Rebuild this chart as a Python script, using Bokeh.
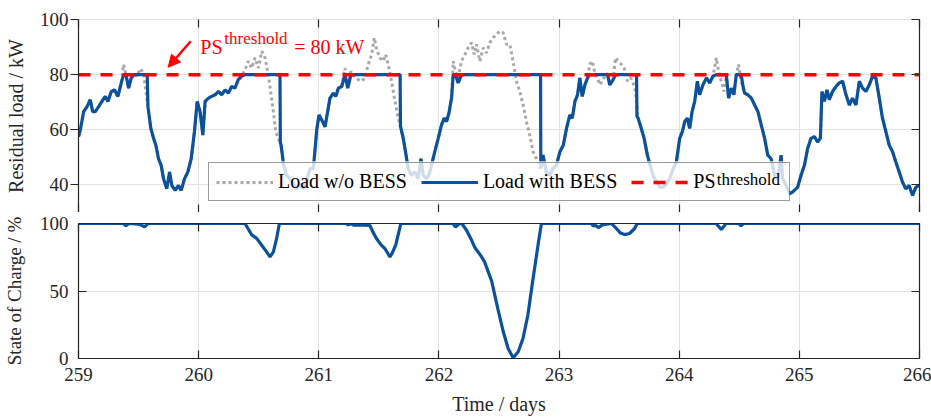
from bokeh.plotting import figure
from bokeh.layouts import column
from bokeh.models import (FixedTicker, LinearAxis, Range1d, Legend, LegendItem,
                          Label, Arrow, NormalHead, BoxAnnotation)
from bokeh.embed import file_html
from bokeh.resources import INLINE

FONT = "Liberation Serif"
TXT = "#262626"
BLUE = "#0b519b"
GREY = "#a9a9a9"
RED = "#ff0000"
GRID = "#e3e3e3"

# ---------------- data ----------------
PS_THRESHOLD = 80
x_ticks = [259, 260, 261, 262, 263, 264, 265, 266]
load_ticks = [40, 60, 80, 100]
soc_ticks = [0, 50, 100]
load_limits = [30, 100]
soc_limits = [0, 100]

t_wo = [
    259.000, 259.015, 259.043, 259.071, 259.098, 259.118, 259.140, 259.168, 259.195, 259.223,
    259.245, 259.273, 259.300, 259.328, 259.356, 259.375, 259.395, 259.417, 259.439, 259.461,
    259.486, 259.514, 259.541, 259.561, 259.578, 259.602, 259.625, 259.644, 259.666, 259.688,
    259.708, 259.735, 259.758, 259.777, 259.805, 259.833, 259.855, 259.882, 259.910, 259.938,
    259.965, 259.988, 260.012, 260.035, 260.054, 260.082, 260.109, 260.137, 260.165, 260.192,
    260.220, 260.248, 260.274, 260.302, 260.330, 260.357, 260.386, 260.414, 260.441, 260.469,
    260.497, 260.525, 260.553, 260.580, 260.603, 260.622, 260.642, 260.663, 260.686, 260.708,
    260.733, 260.760, 260.788, 260.816, 260.843, 260.871, 260.899, 260.927, 260.955, 260.983,
    261.002, 261.024, 261.052, 261.074, 261.093, 261.121, 261.141, 261.163, 261.191, 261.218,
    261.241, 261.268, 261.296, 261.329, 261.357, 261.384, 261.412, 261.440, 261.462, 261.481,
    261.509, 261.537, 261.556, 261.578, 261.606, 261.634, 261.656, 261.675, 261.703, 261.722,
    261.744, 261.772, 261.800, 261.827, 261.850, 261.869, 261.897, 261.925, 261.944, 261.972,
    261.994, 262.021, 262.044, 262.063, 262.083, 262.105, 262.119, 262.138, 262.160, 262.188,
    262.216, 262.243, 262.271, 262.293, 262.313, 262.340, 262.368, 262.396, 262.424, 262.451,
    262.479, 262.507, 262.535, 262.562, 262.590, 262.617, 262.645, 262.673, 262.701, 262.728,
    262.756, 262.784, 262.811, 262.839, 262.866, 262.894, 262.922, 262.949, 262.977, 263.007,
    263.035, 263.062, 263.090, 263.110, 263.132, 263.154, 263.173, 263.193, 263.215, 263.237,
    263.256, 263.276, 263.298, 263.320, 263.339, 263.359, 263.381, 263.403, 263.422, 263.450,
    263.470, 263.492, 263.519, 263.542, 263.569, 263.597, 263.616, 263.636, 263.658, 263.680,
    263.708, 263.735, 263.758, 263.782, 263.810, 263.838, 263.866, 263.893, 263.921, 263.949,
    263.976, 264.004, 264.026, 264.046, 264.068, 264.087, 264.107, 264.129, 264.151, 264.170,
    264.198, 264.226, 264.253, 264.281, 264.309, 264.328, 264.350, 264.372, 264.392, 264.411,
    264.433, 264.455, 264.475, 264.494, 264.516, 264.544, 264.572, 264.600, 264.628, 264.655,
    264.683, 264.711, 264.737, 264.765, 264.788, 264.806, 264.825, 264.848, 264.861, 264.890,
    264.918, 264.945, 264.986, 265.014, 265.042, 265.069, 265.097, 265.125, 265.152, 265.175,
    265.188, 265.208, 265.230, 265.249, 265.277, 265.305, 265.332, 265.360, 265.388, 265.416,
    265.443, 265.471, 265.499, 265.526, 265.554, 265.582, 265.609, 265.637, 265.665, 265.692,
    265.720, 265.748, 265.776, 265.803, 265.831, 265.859, 265.886, 265.914, 265.942, 265.970,
    266.000]

load_wo_bess = [
    57.5, 59.9, 66.6, 68.4, 70.9, 66.6, 66.6, 68.4, 70.3, 72.1,
    70.3, 73.9, 74.5, 72.1, 77.0, 83.7, 80.0, 75.1, 78.8, 80.6,
    79.4, 82.2, 80.6, 73.9, 68.4, 60.5, 56.9, 54.4, 49.5, 47.1,
    42.2, 38.6, 44.7, 39.8, 38.0, 39.8, 38.0, 42.2, 44.7, 49.5,
    59.3, 70.3, 66.6, 58.1, 70.3, 71.5, 72.1, 72.7, 73.9, 72.7,
    74.5, 73.3, 75.7, 75.1, 78.2, 79.4, 81.8, 84.9, 82.4, 86.1,
    82.4, 88.5, 86.1, 80.0, 72.7, 66.6, 59.3, 56.9, 54.4, 47.1,
    43.5, 42.2, 40.4, 38.6, 40.4, 38.6, 41.6, 45.9, 45.9, 60.0,
    65.4, 63.6, 61.1, 66.6, 71.5, 73.3, 72.1, 75.1, 75.7, 82.4,
    75.1, 81.2, 79.4, 78.2, 77.6, 78.8, 83.7, 87.3, 93.4, 89.1,
    86.1, 84.9, 87.3, 83.7, 77.6, 70.3, 65.4, 61.7, 56.9, 52.0,
    45.9, 43.5, 44.7, 42.2, 49.5, 43.5, 42.2, 44.7, 48.3, 53.2,
    56.9, 61.7, 64.2, 63.0, 66.0, 71.5, 84.9, 81.2, 78.8, 84.9,
    87.3, 89.7, 91.6, 87.3, 91.0, 84.9, 89.7, 87.9, 91.6, 93.4,
    94.6, 95.8, 95.2, 91.0, 91.0, 84.9, 77.6, 73.9, 69.0, 63.0,
    58.1, 52.0, 49.5, 45.9, 50.8, 44.7, 43.5, 45.9, 47.1, 52.0,
    54.4, 60.5, 65.4, 64.2, 70.3, 72.7, 78.8, 72.1, 76.3, 78.8,
    83.7, 84.9, 80.6, 78.8, 76.3, 77.6, 79.4, 80.5, 76.3, 78.2,
    86.1, 84.9, 83.7, 82.4, 77.6, 78.8, 77.0, 73.9, 64.2, 61.1,
    56.9, 50.8, 47.1, 43.5, 41.0, 39.2, 39.2, 40.4, 42.2, 45.9,
    48.3, 56.9, 59.3, 63.0, 64.2, 60.5, 66.6, 70.3, 77.6, 72.7,
    76.3, 78.8, 77.0, 79.4, 86.1, 81.2, 77.6, 73.9, 80.0, 71.5,
    75.1, 72.7, 80.0, 83.7, 77.6, 73.3, 72.7, 71.5, 69.0, 66.6,
    61.7, 56.9, 50.8, 49.5, 44.7, 42.2, 43.0, 50.8, 42.2, 39.8,
    36.8, 37.5, 39.2, 43.5, 47.1, 53.2, 56.9, 57.5, 55.6, 56.9,
    73.9, 70.3, 74.5, 70.9, 73.9, 75.7, 77.0, 77.6, 72.7, 69.0,
    71.5, 69.0, 77.6, 75.1, 73.9, 76.3, 79.4, 78.8, 71.5, 64.2,
    59.3, 54.4, 52.0, 48.3, 44.7, 41.0, 38.6, 39.8, 36.2, 39.2,
    39.8]

t_with = [
    259.000, 259.015, 259.043, 259.071, 259.098, 259.118, 259.140, 259.168, 259.195, 259.223,
    259.245, 259.273, 259.300, 259.328, 259.356, 259.375, 259.395, 259.417, 259.439, 259.461,
    259.486, 259.514, 259.541, 259.561, 259.572, 259.578, 259.602, 259.625, 259.644, 259.666,
    259.688, 259.708, 259.735, 259.758, 259.777, 259.805, 259.833, 259.855, 259.882, 259.910,
    259.938, 259.965, 259.988, 260.012, 260.035, 260.054, 260.082, 260.109, 260.137, 260.165,
    260.192, 260.220, 260.248, 260.274, 260.302, 260.330, 260.357, 260.386, 260.414, 260.441,
    260.469, 260.497, 260.525, 260.553, 260.580, 260.603, 260.622, 260.642, 260.663, 260.677,
    260.680, 260.686, 260.708, 260.733, 260.760, 260.788, 260.816, 260.843, 260.871, 260.899,
    260.927, 260.955, 260.983, 261.002, 261.024, 261.052, 261.074, 261.093, 261.121, 261.141,
    261.163, 261.191, 261.218, 261.241, 261.268, 261.296, 261.329, 261.357, 261.384, 261.412,
    261.440, 261.462, 261.481, 261.509, 261.537, 261.556, 261.578, 261.606, 261.634, 261.656,
    261.677, 261.680, 261.703, 261.722, 261.744, 261.772, 261.800, 261.827, 261.850, 261.869,
    261.897, 261.925, 261.944, 261.972, 261.994, 262.021, 262.044, 262.063, 262.083, 262.105,
    262.119, 262.138, 262.160, 262.188, 262.216, 262.243, 262.271, 262.293, 262.313, 262.340,
    262.368, 262.396, 262.424, 262.451, 262.479, 262.507, 262.535, 262.562, 262.590, 262.617,
    262.645, 262.673, 262.701, 262.728, 262.756, 262.784, 262.811, 262.839, 262.846, 262.848,
    262.866, 262.894, 262.922, 262.949, 262.977, 263.007, 263.035, 263.062, 263.090, 263.110,
    263.132, 263.154, 263.173, 263.193, 263.215, 263.237, 263.256, 263.276, 263.298, 263.320,
    263.339, 263.359, 263.381, 263.403, 263.422, 263.450, 263.470, 263.492, 263.519, 263.542,
    263.569, 263.597, 263.616, 263.636, 263.645, 263.648, 263.658, 263.680, 263.708, 263.735,
    263.758, 263.782, 263.810, 263.838, 263.866, 263.893, 263.921, 263.949, 263.976, 264.004,
    264.026, 264.046, 264.068, 264.087, 264.107, 264.129, 264.151, 264.170, 264.198, 264.226,
    264.253, 264.281, 264.309, 264.328, 264.350, 264.372, 264.392, 264.411, 264.433, 264.455,
    264.475, 264.494, 264.516, 264.530, 264.544, 264.572, 264.600, 264.628, 264.655, 264.683,
    264.711, 264.737, 264.765, 264.788, 264.806, 264.825, 264.848, 264.861, 264.890, 264.918,
    264.945, 264.986, 265.014, 265.042, 265.069, 265.097, 265.125, 265.152, 265.175, 265.188,
    265.208, 265.230, 265.249, 265.277, 265.305, 265.332, 265.360, 265.388, 265.416, 265.443,
    265.471, 265.499, 265.526, 265.554, 265.582, 265.609, 265.637, 265.665, 265.692, 265.720,
    265.748, 265.776, 265.803, 265.831, 265.859, 265.886, 265.914, 265.942, 265.970, 266.000]

load_with_bess = [
    57.5, 59.9, 66.6, 68.4, 70.9, 66.6, 66.6, 68.4, 70.3, 72.1,
    70.3, 73.9, 74.5, 72.1, 77.0, 80.0, 80.0, 75.1, 78.8, 80.0,
    80.0, 80.0, 80.0, 80.0, 80.0, 68.4, 60.5, 56.9, 54.4, 49.5,
    47.1, 42.2, 38.6, 44.7, 39.8, 38.0, 39.8, 38.0, 42.2, 44.7,
    49.5, 59.3, 70.3, 66.6, 58.1, 70.3, 71.5, 72.1, 72.7, 73.9,
    72.7, 74.5, 73.3, 75.7, 75.1, 78.2, 79.4, 80.0, 80.0, 80.0,
    80.0, 80.0, 80.0, 80.0, 80.0, 80.0, 80.0, 80.0, 80.0, 80.0,
    55.5, 54.4, 47.1, 43.5, 42.2, 40.4, 38.6, 40.4, 38.6, 41.6,
    45.9, 45.9, 60.0, 65.4, 63.6, 61.1, 66.6, 71.5, 73.3, 72.1,
    75.1, 75.7, 80.0, 75.1, 80.0, 80.0, 80.0, 80.0, 80.0, 80.0,
    80.0, 80.0, 80.0, 80.0, 80.0, 80.0, 80.0, 80.0, 80.0, 80.0,
    80.0, 61.3, 56.9, 52.0, 45.9, 43.5, 44.7, 42.2, 49.5, 43.5,
    42.2, 44.7, 48.3, 53.2, 56.9, 61.7, 64.2, 63.0, 66.0, 71.5,
    80.0, 80.0, 77.0, 80.0, 80.0, 80.0, 80.0, 80.0, 80.0, 80.0,
    80.0, 80.0, 80.0, 80.0, 80.0, 80.0, 80.0, 80.0, 80.0, 80.0,
    80.0, 80.0, 80.0, 80.0, 80.0, 80.0, 80.0, 80.0, 80.0, 46.0,
    50.8, 44.7, 43.5, 45.9, 47.1, 52.0, 54.4, 60.5, 65.4, 64.2,
    70.3, 72.7, 78.8, 72.1, 76.3, 78.8, 80.0, 80.0, 80.0, 80.0,
    80.0, 80.0, 80.0, 80.0, 76.3, 78.2, 80.0, 80.0, 80.0, 80.0,
    80.0, 80.0, 80.0, 80.0, 80.0, 65.0, 64.2, 61.1, 56.9, 50.8,
    47.1, 43.5, 41.0, 39.2, 39.2, 40.4, 42.2, 45.9, 48.3, 56.9,
    59.3, 63.0, 64.2, 60.5, 66.6, 70.3, 77.6, 72.7, 76.3, 78.8,
    77.0, 79.4, 80.0, 80.0, 80.0, 80.0, 80.0, 71.5, 75.1, 72.7,
    80.0, 80.0, 80.0, 76.0, 73.3, 72.7, 71.5, 69.0, 66.6, 61.7,
    56.9, 50.8, 49.5, 44.7, 42.2, 43.0, 50.8, 42.2, 39.8, 36.8,
    37.5, 39.2, 43.5, 47.1, 53.2, 56.9, 57.5, 55.6, 56.9, 73.9,
    70.3, 74.5, 70.9, 73.9, 75.7, 77.0, 77.6, 72.7, 69.0, 71.5,
    69.0, 77.6, 75.1, 73.9, 76.3, 79.4, 78.8, 71.5, 64.2, 59.3,
    54.4, 52.0, 48.3, 44.7, 41.0, 38.6, 39.8, 36.2, 39.2, 39.8]

soc_days = [
    259.000, 259.375, 259.395, 259.417, 259.500, 259.530, 259.550, 259.578,
    260.386, 260.442, 260.483, 260.525, 260.566, 260.594, 260.622, 260.649, 260.672,
    261.231, 261.245, 261.260, 261.290, 261.330, 261.380, 261.426, 261.450, 261.480,
    261.520, 261.550, 261.592, 261.610, 261.640, 261.660, 261.683,
    262.118, 262.137, 262.174, 262.190, 262.230, 262.270, 262.300, 262.350, 262.380,
    262.440, 262.490, 262.535, 262.576, 262.618, 262.640, 262.660, 262.700, 262.740,
    262.780, 262.825, 262.853,
    263.270, 263.285, 263.300, 263.330, 263.360, 263.435, 263.476, 263.510, 263.546,
    263.587, 263.629, 263.650,
    264.307, 264.350, 264.390, 264.500, 264.510, 264.540, 266.000]

soc_percent = [
    100, 100, 98.3, 100, 99.6, 98.5, 97.5, 100,
    100, 91.6, 89.0, 83.9, 79.0, 75.3, 79.0, 88.9, 100,
    100, 98.8, 100, 98.8, 99.0, 98.8, 98.5, 93.8, 88.9,
    84.0, 81.5, 75.3, 77.8, 84.0, 91.4, 100,
    100, 97.5, 100, 100, 95, 88, 82, 76, 71.6,
    57, 37, 20, 7.4, 0.5, 3, 5, 15, 32,
    57, 84, 100,
    100, 98, 98.8, 97, 99, 100, 96.3, 93, 91.8,
    92.6, 96.3, 100,
    100, 95.5, 100, 100, 98.3, 100, 100]


# ---------------- helpers ----------------
def style_axis(ax, ticks, labels=True, tick_in=0, tick_out=0, line_color=TXT,
               standoff=10):
    ax.ticker = FixedTicker(ticks=ticks)
    ax.major_tick_in = tick_in
    ax.major_tick_out = tick_out
    ax.minor_tick_line_color = None
    ax.axis_line_color = line_color
    ax.axis_line_width = 1.2
    ax.major_tick_line_color = TXT
    ax.major_tick_line_width = 1.2
    ax.major_label_text_font = FONT
    ax.axis_label_text_font = FONT
    ax.axis_label_text_color = TXT
    ax.axis_label_text_font_style = "normal"
    ax.axis_label_text_font_size = "20px"
    if labels:
        ax.major_label_text_color = TXT
        ax.major_label_text_font_size = "19px"
        ax.major_label_standoff = standoff
    else:
        # tick marks only: the labels are not painted
        ax.major_label_text_color = None
        ax.major_label_text_font_size = "1px"
        ax.major_label_standoff = 0


def base_fig(height, y_limits, top, bottom):
    p = figure(width=931, height=height,
               x_range=Range1d(x_ticks[0], x_ticks[-1]),
               y_range=Range1d(y_limits[0], y_limits[1]),
               output_backend="svg", toolbar_location=None,
               min_border_left=77, min_border_right=12,
               min_border_top=top, min_border_bottom=bottom)
    p.outline_line_color = None
    p.background_fill_color = "white"
    p.border_fill_color = "white"
    p.xgrid.grid_line_color = GRID
    p.ygrid.grid_line_color = GRID
    return p


# ---------------- top panel: residual load ----------------
p1 = base_fig(212, load_limits, 19, 0)
style_axis(p1.xaxis[0], x_ticks, labels=False, tick_in=8)
style_axis(p1.yaxis[0], load_ticks, tick_out=8, standoff=2)
p1.yaxis[0].axis_label = "Residual load / kW"
p1.yaxis[0].axis_label_standoff = 10
ax_top = LinearAxis()
style_axis(ax_top, x_ticks, labels=False, tick_in=8, line_color=GRID)
p1.add_layout(ax_top, "above")
ax_right = LinearAxis()
style_axis(ax_right, load_ticks, labels=False, tick_in=8)
p1.add_layout(ax_right, "right")
p1.xgrid.ticker = FixedTicker(ticks=x_ticks)
p1.ygrid.ticker = FixedTicker(ticks=load_ticks)

r_wo = p1.line(t_wo, load_wo_bess, line_color=GREY, line_width=3, line_dash="3 3")
r_with = p1.line(t_with, load_with_bess, line_color=BLUE, line_width=3.2)
r_ps = p1.line([x_ticks[0], x_ticks[-1]], [PS_THRESHOLD, PS_THRESHOLD],
               line_color=RED, line_width=3.5, line_dash="12 10")

# translucent white backing of the legend (so the curves show faintly through it)
p1.add_layout(BoxAnnotation(left=260.081, right=264.919, bottom=33.99, top=48.55,
                            fill_color="white", fill_alpha=0.8,
                            line_color=None))

legend = Legend(items=[LegendItem(label="Load w/o BESS", renderers=[r_wo]),
                       LegendItem(label="Load with BESS", renderers=[r_with]),
                       LegendItem(label="PS", renderers=[r_ps])],
                location=(130, 11), orientation="horizontal",
                label_text_font=FONT, label_text_font_size="20px",
                label_text_color="black", glyph_width=57, glyph_height=20,
                label_standoff=5, spacing=14, padding=7, margin=0,
                label_width=89, label_height=22,
                border_line_color="#3a3a3a", border_line_width=1.2,
                background_fill_alpha=0)
p1.add_layout(legend)

p1.add_layout(Label(x=264.312, y=41.8, text="threshold", text_font=FONT,
                    text_font_size="17px", text_color="black",
                    text_baseline="alphabetic", level="overlay"))

# annotation: PS^threshold = 80 kW with arrow
p1.add_layout(Label(x=260.014, y=90.0, text="PS", text_font=FONT,
                    text_font_size="20px", text_color=RED,
                    text_baseline="alphabetic"))
p1.add_layout(Label(x=260.214, y=93.2, text="threshold", text_font=FONT,
                    text_font_size="17px", text_color=RED,
                    text_baseline="alphabetic"))
p1.add_layout(Label(x=260.796, y=90.0, text="= 80 kW", text_font=FONT,
                    text_font_size="20px", text_color=RED,
                    text_baseline="alphabetic"))
p1.add_layout(Arrow(end=NormalHead(size=12, fill_color=RED, line_color=RED),
                    x_start=259.934, y_start=92.1, x_end=259.746, y_end=82.7,
                    line_color=RED, line_width=2.5))

# ---------------- bottom panel: state of charge ----------------
p2 = base_fig(207, soc_limits, 11, 61)
style_axis(p2.xaxis[0], x_ticks, tick_in=8, standoff=9)
p2.xaxis[0].axis_label = "Time / days"
p2.xaxis[0].axis_label_standoff = 9
style_axis(p2.yaxis[0], soc_ticks, tick_in=8, standoff=10)
p2.yaxis[0].axis_label = "State of Charge / %"
p2.yaxis[0].axis_label_text_font_size = "19px"
p2.yaxis[0].axis_label_standoff = 12
ax_top2 = LinearAxis()
style_axis(ax_top2, x_ticks, labels=False, tick_in=8)
p2.add_layout(ax_top2, "above")
ax_right2 = LinearAxis()
style_axis(ax_right2, soc_ticks, labels=False, tick_in=8)
p2.add_layout(ax_right2, "right")
p2.xgrid.ticker = FixedTicker(ticks=x_ticks)
p2.ygrid.ticker = FixedTicker(ticks=soc_ticks)

p2.line(soc_days, soc_percent, line_color=BLUE, line_width=3.2)

layout = column(p1, p2, spacing=0)
open("out.html", "w").write(file_html(layout, INLINE))
